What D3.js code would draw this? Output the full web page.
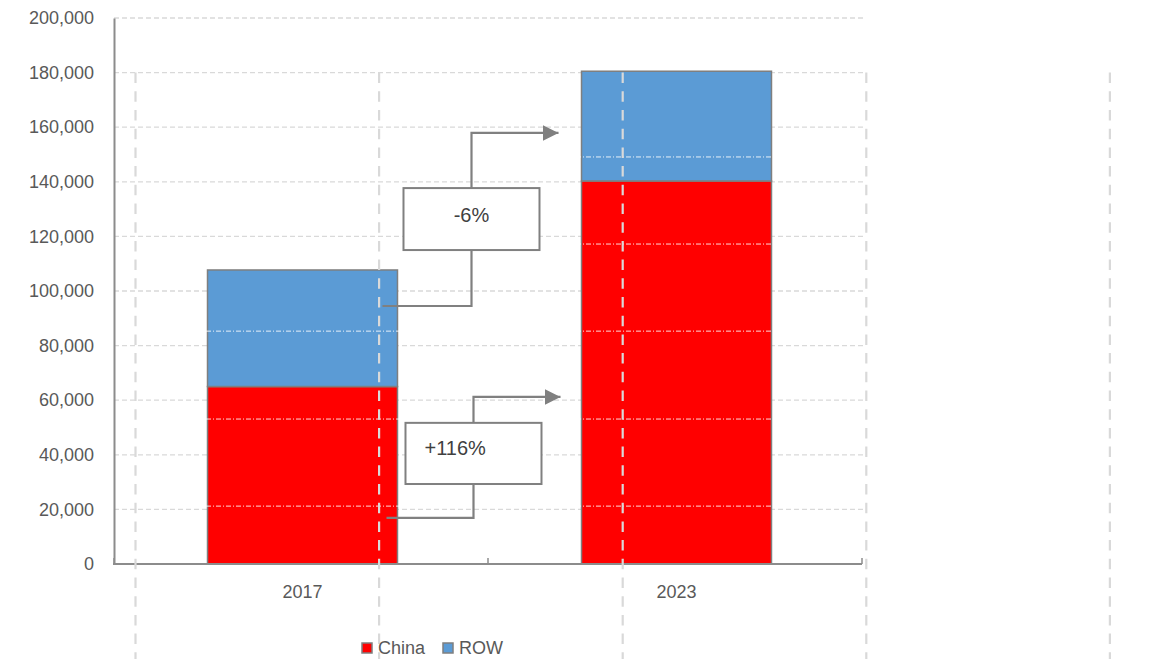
<!DOCTYPE html>
<html><head><meta charset="utf-8">
<script src="https://cdn.jsdelivr.net/npm/d3@7"></script>
<style>body{margin:0;background:#fff;} svg{display:block;font-family:"Liberation Sans",Arial,sans-serif;}</style>
</head><body>
<svg id="c" width="1163" height="659"></svg>
<script>
const categories = ["2017", "2023"];
const china = [65000, 140300];
const row = [42700, 40200];
const seriesNames = ["China", "ROW"];
const seriesColors = ["#ff0000", "#5b9bd5"];
const yTicks = [0, 20000, 40000, 60000, 80000, 100000, 120000, 140000, 160000, 180000, 200000];
// annotations: label, start value (in 2017 bar), box bottom/top values, arrow value
const annLabels = ["-6%", "+116%"];
const annStart = [94500, 16900];
const annBoxLow = [115000, 29300];
const annBoxHigh = [137700, 51700];
const annArrow = [157900, 61200];
// secondary (background) grid from the underlying sheet
const secGridY = [21200, 53100, 85300, 117200, 149100];

const svg = d3.select("#c");
const L = 114, R = 862, T = 18, B = 564;
const x = d3.scaleBand().domain(categories).range([L + 1.5, R + 1.5]).paddingInner(0.492).paddingOuter(0.246);
const y = d3.scaleLinear().domain([0, 200000]).range([B, T]);
const textCol = "#595959", axisCol = "#8c8c8c", gridCol = "#d9d9d9";

// horizontal grid
svg.append("g").selectAll("line").data(yTicks.slice(1)).join("line")
  .attr("x1", L).attr("x2", R + 1).attr("y1", d => y(d)).attr("y2", d => y(d))
  .attr("stroke", gridCol).attr("stroke-width", 1.3).attr("stroke-dasharray", "5,3");

// y axis
const ya = svg.append("g").attr("transform", `translate(${L},0)`)
  .call(d3.axisLeft(y).tickValues(yTicks).tickSize(0).tickPadding(20).tickFormat(d3.format(",")));
ya.select(".domain").attr("stroke", axisCol).attr("stroke-width", 2);
ya.selectAll("text").attr("fill", textCol).style("font-size", "18px").attr("font-family", "Liberation Sans, Arial, sans-serif");

// stacked bars
const stack = categories.map((c, i) => [
  {k: 0, c, y0: 0, y1: china[i]},
  {k: 1, c, y0: china[i], y1: china[i] + row[i]}
]).flat();
svg.append("g").selectAll("rect").data(stack).join("rect")
  .attr("x", d => x(d.c)).attr("width", x.bandwidth())
  .attr("y", d => y(d.y1)).attr("height", d => y(d.y0) - y(d.y1))
  .attr("fill", d => seriesColors[d.k]).attr("stroke", "#7f7f7f").attr("stroke-width", 1.5);

// white dash-dot secondary grid lines
svg.append("g").selectAll("line").data(secGridY).join("line")
  .attr("x1", L + 2).attr("x2", R).attr("y1", d => y(d)).attr("y2", d => y(d))
  .attr("stroke", "#ffffff").attr("stroke-opacity", 0.85).attr("stroke-width", 1).attr("stroke-dasharray", "5,2,1,2");

// x axis
const xa = svg.append("g").attr("transform", `translate(0,${B})`);
xa.append("line").attr("x1", L - 1).attr("x2", R).attr("stroke", axisCol).attr("stroke-width", 2);
const boundaries = [L, L + (R - L) / 2, R];
xa.selectAll("line.t").data(boundaries).join("line").attr("class", "t")
  .attr("x1", d => d).attr("x2", d => d).attr("y1", 0).attr("y2", -6)
  .attr("stroke", axisCol).attr("stroke-width", 1.5);
xa.selectAll("text").data(categories).join("text")
  .attr("x", d => x(d) + x.bandwidth() / 2).attr("y", 34)
  .attr("text-anchor", "middle").attr("fill", textCol).style("font-size", "18px").text(d => d);

// vertical dashed secondary columns
const vStart = y(180000);
const vX = d3.range(5).map(i => 135.5 + i * 243.6);
svg.append("g").selectAll("line").data(vX).join("line")
  .attr("x1", d => d).attr("x2", d => d).attr("y1", vStart).attr("y2", 659)
  .attr("stroke", gridCol).attr("stroke-width", 2.2).attr("stroke-dasharray", "10.5,8.2");

// annotations
const x0 = x("2017") + x.bandwidth() - 15;
const boxL = x("2017") + x.bandwidth() + 6, boxW = 136;
const vx = boxL + 68;
const tip = x("2023") - 23;
const defs = svg.append("defs");
defs.append("marker").attr("id", "arr").attr("viewBox", "0 0 10 10").attr("refX", 10).attr("refY", 5)
  .attr("markerWidth", 16).attr("markerHeight", 16).attr("markerUnits", "userSpaceOnUse").attr("orient", "auto")
  .append("path").attr("d", "M0,0 L10,5 L0,10 Z").attr("fill", "#808080");
annLabels.forEach((lab, i) => {
  const g = svg.append("g");
  const bx = boxL + (i === 1 ? 2 : 0);
  const lx = vx + (i === 1 ? 2 : 0);
  g.append("path").attr("d", `M${x0 + i * 4},${y(annStart[i])} H${lx} V${y(annBoxLow[i])}`)
    .attr("fill", "none").attr("stroke", "#808080").attr("stroke-width", 2.2);
  g.append("path").attr("d", `M${lx},${y(annBoxHigh[i])} V${y(annArrow[i])} H${tip + i * 2}`)
    .attr("fill", "none").attr("stroke", "#808080").attr("stroke-width", 2.2).attr("marker-end", "url(#arr)");
  g.append("rect").attr("x", bx).attr("y", y(annBoxHigh[i])).attr("width", boxW)
    .attr("height", y(annBoxLow[i]) - y(annBoxHigh[i]))
    .attr("fill", "#fff").attr("stroke", "#808080").attr("stroke-width", 2);
  g.append("text")
    .attr("x", i === 0 ? bx + boxW / 2 : bx + 19)
    .attr("y", i === 0 ? y(annBoxHigh[i]) + 34 : y(annBoxHigh[i]) + 32)
    .attr("text-anchor", i === 0 ? "middle" : "start")
    .attr("fill", "#404040").style("font-size", "20px").text(lab);
});

// legend
const lg = svg.append("g").attr("transform", "translate(362,643)");
const lpos = [0, 81];
seriesNames.forEach((n, i) => {
  lg.append("rect").attr("x", lpos[i]).attr("y", 0).attr("width", 10).attr("height", 10)
    .attr("fill", seriesColors[i]).attr("stroke", "#7f7f7f").attr("stroke-width", 1.5);
  lg.append("text").attr("x", lpos[i] + 16).attr("y", 11).attr("fill", textCol)
    .style("font-size", "18px").text(n);
});
</script>
</body></html>
